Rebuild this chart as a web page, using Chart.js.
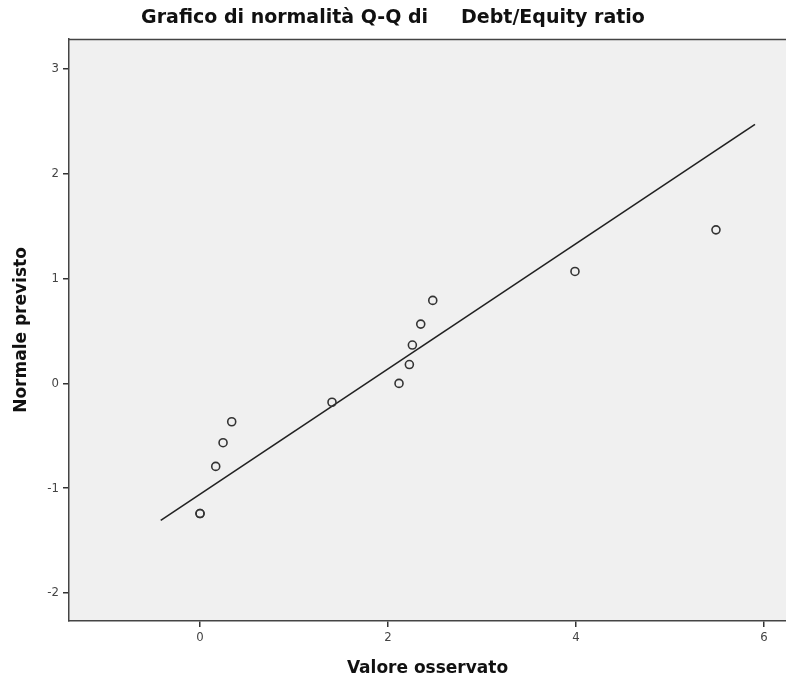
<!DOCTYPE html>
<html>
<head>
<meta charset="utf-8">
<script src="https://cdn.jsdelivr.net/npm/chart.js@4.4.0/dist/chart.umd.min.js"></script>
<style>
  html, body { margin: 0; padding: 0; background: #ffffff; }
  #wrap { width: 786px; height: 688px; }
</style>
</head>
<body>
<div id="wrap"><canvas id="c" width="786" height="688"></canvas></div>
<script>
// Observed values (x) and expected normal quantiles (y)
const observed = [0, 0, 0.167, 0.245, 0.337, 1.404, 2.117, 2.227, 2.259, 2.348, 2.476, 3.989, 5.489];
const expectedNormal = [-1.242, -1.242, -0.792, -0.566, -0.366, -0.180, 0.0, 0.180, 0.366, 0.566, 0.792, 1.068, 1.465];
// Reference line endpoints
const lineX = [-0.418, 5.904];
const lineY = [-1.307, 2.471];
// Axis ticks
const xTicks = [0, 2, 4, 6];
const yTicks = [-2, -1, 0, 1, 2, 3];

const titleText = 'Grafico di normalità Q-Q di     Debt/Equity ratio';
const xTitle = 'Valore osservato';
const yTitle = 'Normale previsto';

const points = observed.map((v, i) => ({ x: v, y: expectedNormal[i] }));
const linePts = lineX.map((v, i) => ({ x: v, y: lineY[i] }));

const bgPlugin = {
  id: 'plotBg',
  beforeDraw(chart) {
    const { ctx, chartArea: a } = chart;
    ctx.save();
    ctx.fillStyle = '#f0f0f0';
    ctx.fillRect(a.left, a.top, a.right - a.left, a.bottom - a.top);
    ctx.restore();
  },
  afterDatasetsDraw(chart) {
    const { ctx, chartArea: a } = chart;
    ctx.save();
    ctx.strokeStyle = '#444';
    ctx.lineWidth = 1.5;
    ctx.beginPath();
    ctx.moveTo(a.left, a.top + 0.5);
    ctx.lineTo(a.right, a.top + 0.5);
    ctx.stroke();
    ctx.restore();
  }
};

const tickFont = { family: "'DejaVu Sans Condensed', 'DejaVu Sans', sans-serif", size: 13 };
const titleFont = { family: "'DejaVu Sans', sans-serif", size: 19, weight: 'bold' };
const axisTitleFont = { family: "'DejaVu Sans', sans-serif", size: 17, weight: 'bold' };

new Chart(document.getElementById('c'), {
  type: 'scatter',
  data: {
    datasets: [
      {
        type: 'line',
        data: linePts,
        borderColor: '#222',
        borderWidth: 1.6,
        pointRadius: 0,
        fill: false,
        tension: 0,
        order: 2
      },
      {
        data: points,
        pointStyle: 'circle',
        pointRadius: 4,
        borderWidth: 1.6,
        borderColor: '#333',
        backgroundColor: 'rgba(0,0,0,0)',
        order: 1
      }
    ]
  },
  plugins: [bgPlugin],
  options: {
    responsive: false,
    animation: false,
    devicePixelRatio: 1,
    layout: { padding: 0, autoPadding: false },
    plugins: {
      legend: { display: false },
      tooltip: { enabled: false },
      title: {
        display: true,
        text: titleText,
        color: '#111',
        font: titleFont,
        padding: { top: 7, bottom: 9.2 }
      }
    },
    scales: {
      x: {
        type: 'linear',
        min: -1.394,
        max: 6.234,
        afterBuildTicks: s => { s.ticks = xTicks.map(v => ({ value: v })); },
        afterFit: s => { s.height = 67; s.paddingLeft = 0; s.paddingRight = 0; },
        grid: { drawOnChartArea: false, drawTicks: true, tickLength: 6, color: '#333', lineWidth: 1.5 },
        border: { display: true, color: '#444', width: 1.5 },
        ticks: { color: '#444', font: tickFont, padding: 3, maxRotation: 0 },
        title: { display: true, text: xTitle, color: '#111', font: axisTitleFont, padding: { top: 4, bottom: 9 } }
      },
      y: {
        type: 'linear',
        min: -2.267,
        max: 3.286,
        afterBuildTicks: s => { s.ticks = yTicks.map(v => ({ value: v })); },
        afterFit: s => { s.width = 69; s.paddingTop = 0; s.paddingBottom = 0; },
        grid: { drawOnChartArea: false, drawTicks: true, tickLength: 6, color: '#333', lineWidth: 1.5 },
        border: { display: true, color: '#444', width: 1.5 },
        ticks: { color: '#444', font: tickFont, padding: 4, callback: v => (v < 0 ? '-' + Math.abs(v) : String(v)) },
        title: { display: true, text: yTitle, color: '#111', font: axisTitleFont, padding: { top: 11, bottom: 4 } }
      }
    }
  }
});
</script>
</body>
</html>
